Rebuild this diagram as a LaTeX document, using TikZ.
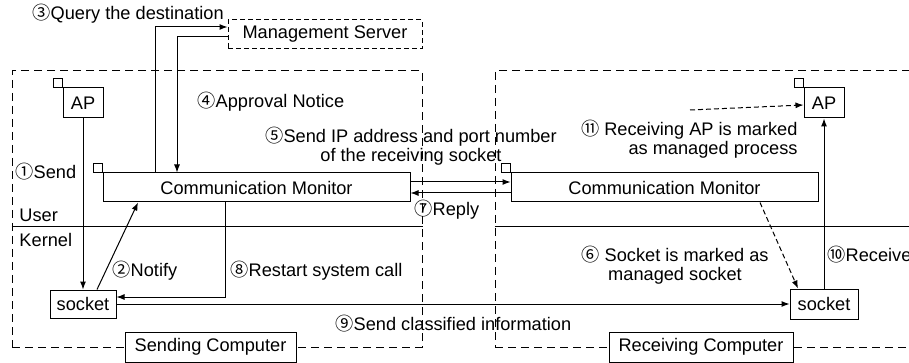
\documentclass[tikz,border=0pt]{standalone}
\usepackage{fontspec}
\setmainfont{Liberation Sans}
\newfontfamily\cjkjp{Noto Sans CJK JP}
\usetikzlibrary{arrows.meta,calc}
\newcommand\cn[1]{{\cjkjp #1}}
\begin{document}
\begin{tikzpicture}[x=1pt,y=-1pt, line width=1pt,
  font=\fontsize{18.2}{19.5}\selectfont,
  box/.style={draw, fill=white, inner sep=0pt},
  frame/.style={draw, dash pattern=on 8pt off 5pt, inner sep=0pt},
  arr/.style={-{Latex[length=8pt,width=6pt]}},
  dsh/.style={dash pattern=on 5pt off 3pt},
  lbl/.style={inner sep=0pt}]
\useasboundingbox (0,0) rectangle (909,363);
\clip (0,0) rectangle (909,363);
% frames
\node[frame, minimum width=410pt, minimum height=276pt] (sendc) at (217,209) {};
\node[frame, minimum width=440pt, minimum height=276pt] (recvc) at (715,209) {};
\node[draw, dsh, inner sep=0pt, minimum width=194pt, minimum height=29pt] (ms) at (325,34.5) {Management Server};
% boxes
\node[box, minimum width=40pt, minimum height=30pt] (apL) at (83,103) {AP};
\node[box, minimum width=307pt, minimum height=29pt] (cmL) at (256.5,187.5) {Communication Monitor};
\node[box, minimum width=66pt, minimum height=28pt] (sockL) at (83,304) {socket};
\node[box, minimum width=307pt, minimum height=29pt] (cmR) at (664.5,187.5) {Communication Monitor};
\node[box, minimum width=40pt, minimum height=30pt] (apR) at (824,103) {AP};
\node[box, minimum width=68pt, minimum height=30pt] (sockR) at (824,304) {socket};
\node[box, minimum width=171pt, minimum height=30pt] (sendl) at (210.5,347) {Sending Computer};
\node[box, minimum width=184pt, minimum height=30pt] (recvl) at (701,347) {Receiving Computer};
% small squares
\foreach \n in {apL,cmL,apR,cmR} \draw (\n.north west) rectangle ++(-9,-9);
% user/kernel divider
\coordinate (kl) at (0,227);
\draw (sendc.west |- kl) -- (sendc.east |- kl);
\draw (recvc.west |- kl) -- (recvc.east |- kl);
% connectors
\draw[arr] (apL.south) -- (sockL.north);
\draw[arr] ([xshift=14pt]sockL.north) -- ([xshift=-118.5pt]cmL.south);
\draw[arr] ([xshift=-101.5pt]cmL.north) |- ([yshift=7.5pt]ms.west);
\draw[arr] ([yshift=-2.5pt]ms.west) -| ([xshift=-79.5pt]cmL.north);
\draw[arr] ([yshift=5.5pt]cmL.east) -- ([yshift=5.5pt]cmR.west);
\draw[arr] ([yshift=-5.5pt]cmR.west) -- ([yshift=-5.5pt]cmL.east);
\draw[arr] ([xshift=-31.5pt]cmL.south) |- ([yshift=7pt]sockL.east);
\draw[arr] (sockL.east) -- (sockR.west);
\draw[arr, dsh] ([xshift=95.5pt]cmR.south) -- ([xshift=-26pt]sockR.north);
\draw[arr] (sockR.north) -- (apR.south);
\coordinate (m11) at (690,110);
\draw[arr, dsh] (m11) -- ([yshift=-2pt]apR.west);
% labels
\node[lbl, anchor=west] (t3) at (32,14) {\cn{③}Query the destination};
\node[lbl, anchor=west] (t4) at (197,102) {\cn{④}Approval Notice};
\node[lbl, align=center] (t5) at (411,146) {\cn{⑤}Send IP address and port number\\of the receiving socket};
\node[lbl, anchor=west] (t1) at (15,172) {\cn{①}Send};
\node[lbl, anchor=west] (tu) at (19,215) {User};
\node[lbl, anchor=west] (tk) at (19,240) {Kernel};
\node[lbl, anchor=west] (t7) at (414,210) {\cn{⑦}Reply};
\node[lbl, anchor=west] (t2) at (112,271) {\cn{②}Notify};
\node[lbl, anchor=west] (t8) at (230,271) {\cn{⑧}Restart system call};
\node[lbl, anchor=west] (t9) at (335,324) {\cn{⑨}Send classified information};
\node[lbl, align=right, anchor=east] (t11) at (798,139) {\cn{⑪} Receiving AP is marked\\as managed process};
\node[lbl, align=center] (t6) at (675,265) {\cn{⑥} Socket is marked as\\managed socket};
\node[lbl, anchor=west] (t10) at (827,255) {\cn{⑩}Receive};
\end{tikzpicture}
\end{document}
